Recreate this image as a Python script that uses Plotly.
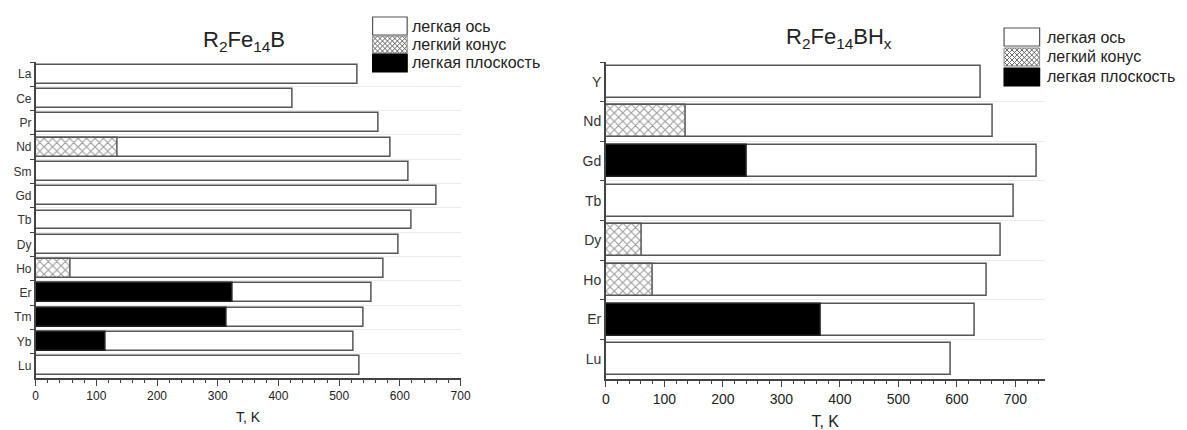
import plotly.graph_objects as go

W, H = 1187, 430

# ---- R2Fe14B: Curie temperature and spin-reorientation temperatures, K ----
elements_b = ["La", "Ce", "Pr", "Nd", "Sm", "Gd", "Tb", "Dy", "Ho", "Er", "Tm", "Yb", "Lu"]
tc_b = [530, 424, 565, 585, 615, 661, 620, 598, 574, 554, 541, 524, 534]
cone_b = [None, None, None, 135, None, None, None, None, 58, None, None, None, None]
plane_b = [None, None, None, None, None, None, None, None, None, 325, 314, 116, None]

# ---- R2Fe14BHx ----
elements_h = ["Y", "Nd", "Gd", "Tb", "Dy", "Ho", "Er", "Lu"]
tc_h = [641, 662, 737, 698, 675, 652, 630, 590]
cone_h = [None, 137, None, None, 61, 81, None, None]
plane_h = [None, None, 241, None, None, None, 368, None]

legend_labels = ["легкая ось", "легкий конус", "легкая плоскость"]

FONT = "Liberation Sans, Arial, sans-serif"
TXT = "#222222"
EDGE = "#555555"
AXIS = "#444444"


def px(x):
    return x / W


def py(y):
    return 1 - y / H


fig = go.Figure()


def add_panel(cats, tc, cone, plane, xa, ya, width):
    common = dict(orientation="h", y=cats, xaxis=xa, yaxis=ya, width=width,
                  showlegend=False, hoverinfo="x+y")
    fig.add_trace(go.Bar(x=tc, marker=dict(color="white", line=dict(color=EDGE, width=1.5)),
                         **common))
    fig.add_trace(go.Bar(x=cone, marker=dict(color="white", line=dict(color=EDGE, width=1.5),
                                             pattern=dict(shape="x", size=6, solidity=0.35,
                                                          fgcolor="#3a3a3a", bgcolor="white")),
                         **common))
    fig.add_trace(go.Bar(x=plane, marker=dict(color="black", line=dict(color="#222", width=1.5)),
                         **common))


add_panel(elements_b, tc_b, cone_b, plane_b, "x", "y", 0.78)
add_panel(elements_h, tc_h, cone_h, plane_h, "x2", "y2", 0.81)


def xaxis_style(domain, rng, fsize, standoff):
    return dict(domain=domain, range=rng, showline=True, linecolor=AXIS, linewidth=1.5,
                ticks="outside", ticklen=6, tickwidth=1.2, tickcolor=AXIS, dtick=100,
                tick0=0, showgrid=False, zeroline=False,
                minor=dict(ticks="outside", ticklen=3, tickwidth=1, tickcolor=AXIS, dtick=20),
                tickfont=dict(family=FONT, size=fsize, color=TXT),
                title=dict(text="T, K", font=dict(family=FONT, size=fsize + 2, color=TXT),
                           standoff=standoff),
                fixedrange=True)


def yaxis_style(domain, cats, fsize):
    return dict(domain=domain, type="category", categoryorder="array",
                categoryarray=cats, autorange="reversed", tickson="boundaries",
                showline=True, linecolor=AXIS, linewidth=1.5, ticks="outside",
                ticklen=4, tickwidth=1.2, tickcolor=AXIS, showgrid=True,
                gridcolor="#ebebeb", gridwidth=1,
                tickfont=dict(family=FONT, size=fsize, color="#333"), fixedrange=True)


# legend keys drawn as boxes beside each panel
shapes = []
annotations = []


def hatch_path(x0, y0, x1, y1, d=5):
    segs = []
    c = (y0 - x1) - d
    while c <= y1 - x0 + d:
        a = max(x0, y0 - c)
        b = min(x1, y1 - c)
        if b > a:
            segs.append(f"M{px(a):.5f},{py(a + c):.5f}L{px(b):.5f},{py(b + c):.5f}")
        c += d
    c = x0 + y0 - d
    while c <= x1 + y1 + d:
        a = max(x0, c - y1)
        b = min(x1, c - y0)
        if b > a:
            segs.append(f"M{px(a):.5f},{py(c - a):.5f}L{px(b):.5f},{py(c - b):.5f}")
        c += d
    return "".join(segs)


def add_legend(bx0, bx1, rows, tx, fsize):
    fills = ["white", "hatch", "black"]
    for (y0, y1), fill, label in zip(rows, fills, legend_labels):
        if fill == "hatch":
            shapes.append(dict(type="rect", xref="paper", yref="paper", x0=px(bx0), x1=px(bx1),
                               y0=py(y1), y1=py(y0), fillcolor="white",
                               line=dict(width=0)))
            shapes.append(dict(type="path", xref="paper", yref="paper",
                               path=hatch_path(bx0, y0, bx1, y1),
                               line=dict(color="#666666", width=1)))
            shapes.append(dict(type="rect", xref="paper", yref="paper", x0=px(bx0), x1=px(bx1),
                               y0=py(y1), y1=py(y0), line=dict(color="#888", width=1)))
        else:
            shapes.append(dict(type="rect", xref="paper", yref="paper", x0=px(bx0), x1=px(bx1),
                               y0=py(y1), y1=py(y0), fillcolor=fill,
                               line=dict(color="#555" if fill == "white" else "black", width=1.2)))
        annotations.append(dict(text=label, xref="paper", yref="paper", x=px(tx),
                                y=py((y0 + y1) / 2), xanchor="left", yanchor="middle",
                                showarrow=False, font=dict(family=FONT, size=fsize, color=TXT)))


add_legend(373, 408, [(17, 35), (36, 53), (54, 72)], 411, 16)
add_legend(1012, 1048, [(28, 46), (48, 66), (68, 86)], 1053, 16)

annotations.append(dict(text="R<sub>2</sub>Fe<sub>14</sub>B", xref="paper", yref="paper",
                        x=px(243), y=py(41), xanchor="center", yanchor="middle",
                        showarrow=False, font=dict(family=FONT, size=22, color=TXT)))
annotations.append(dict(text="R<sub>2</sub>Fe<sub>14</sub>BH<sub>x</sub>", xref="paper",
                        yref="paper", x=px(845), y=py(38), xanchor="center",
                        yanchor="middle", showarrow=False,
                        font=dict(family=FONT, size=22, color=TXT)))

fig.update_layout(
    width=W, height=H, autosize=False,
    margin=dict(l=0, r=0, t=0, b=0),
    paper_bgcolor="white", plot_bgcolor="white",
    barmode="overlay", bargap=0,
    font=dict(family=FONT, color=TXT),
    xaxis=xaxis_style([px(32), px(462)], [0, 700], 12, 10),
    yaxis=yaxis_style([py(378), py(62)], elements_b, 12),
    xaxis2=dict(anchor="y2", **xaxis_style([px(609), px(1053)], [0, 750], 14, 10)),
    yaxis2=dict(anchor="x2", **yaxis_style([py(379), py(62)], elements_h, 14)),
    shapes=shapes,
    annotations=annotations,
)
fig.update_layout(xaxis=dict(anchor="y"), yaxis=dict(anchor="x"))

fig.write_html("out.html")
